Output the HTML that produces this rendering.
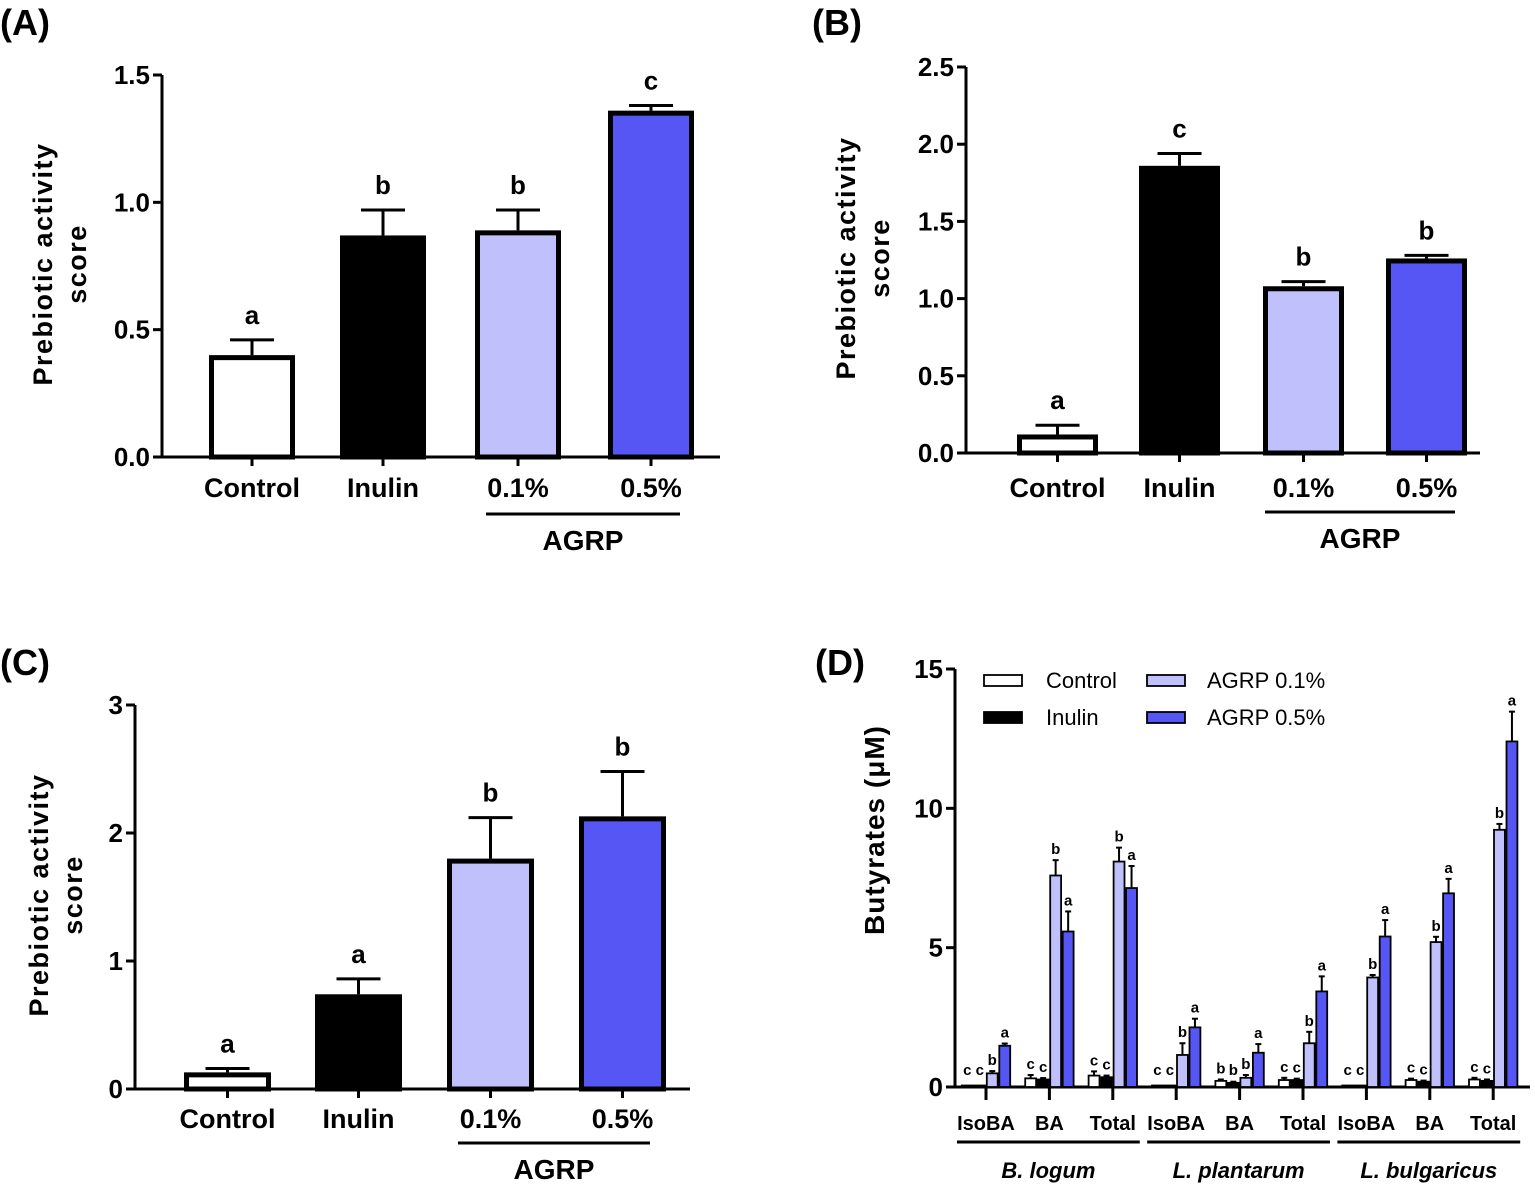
<!DOCTYPE html>
<html><head><meta charset="utf-8">
<style>
html,body{margin:0;padding:0;background:#fff;}
svg{display:block;font-family:"Liberation Sans",sans-serif;}
</style></head>
<body>
<svg id="fig" width="1535" height="1189" viewBox="0 0 1535 1189" xmlns="http://www.w3.org/2000/svg"></svg>
<script>
// Panels A-C data
const groupLabels = ["Control","Inulin","0.1%","0.5%"];
const fills = ["#ffffff","#000000","#c0c0fc","#5656f5"];
const valuesA = [0.40, 0.87, 0.89, 1.36];
const errorsA = [0.06, 0.10, 0.08, 0.02];
const lettersA = ["a","b","b","c"];
const ticksA = ["0.0","0.5","1.0","1.5"];
const valuesB = [0.12, 1.86, 1.08, 1.26];
const errorsB = [0.06, 0.08, 0.03, 0.02];
const lettersB = ["a","c","b","b"];
const ticksB = ["0.0","0.5","1.0","1.5","2.0","2.5"];
const valuesC = [0.13, 0.74, 1.80, 2.13];
const errorsC = [0.03, 0.12, 0.32, 0.35];
const lettersC = ["a","a","b","b"];
const ticksC = ["0","1","2","3"];
// Panel D data
const speciesD = ["B. logum","L. plantarum","L. bulgaricus"];
const acidsD = ["IsoBA","BA","Total"];
const seriesD = ["Control","Inulin","AGRP 0.1%","AGRP 0.5%"];
const controlD = [0.03,0.31,0.41, 0.02,0.22,0.25, 0,0.25,0.27];
const inulinD  = [0.02,0.27,0.35, 0.02,0.15,0.25, 0,0.19,0.22];
const agrp01D  = [0.49,7.59,8.09, 1.15,0.33,1.57, 3.93,5.2,9.23];
const agrp05D  = [1.48,5.58,7.14, 2.14,1.23,3.43, 5.4,6.95,12.4];
const errCtrlD = [0,0.12,0.15, 0,0.05,0.08, 0,0.05,0.06];
const errInuD  = [0,0.05,0.06, 0,0.04,0.05, 0,0.04,0.05];
const err01D   = [0.08,0.55,0.5, 0.42,0.1,0.41, 0.09,0.19,0.21];
const err05D   = [0.08,0.72,0.79, 0.31,0.31,0.54, 0.59,0.52,1.07];
const lettersD = [["c","c","b","a"],["c","c","b","a"],["c","c","b","a"],
                  ["c","c","b","a"],["b","b","b","a"],["c","c","b","a"],
                  ["c","c","b","a"],["c","c","b","a"],["c","c","b","a"]];
const ticksD = ["0","5","10","15"];

const svg = document.getElementById('fig');
const NS = "http://www.w3.org/2000/svg";
function mk(tag, attrs, text){
  const e = document.createElementNS(NS, tag);
  for (const k in attrs) e.setAttribute(k, attrs[k]);
  if (text !== undefined) e.textContent = text;
  svg.appendChild(e);
  return e;
}

function panel(cfg){
  const {id, vals, errs, letters, ticks, max, axX, y0, yTop, barL, barW, xEnd, labY, agrpX1, agrpX2, agrpY, titleX, titleY, letter, letterX, letterY} = cfg;
  const ys = v => y0 - (v / max) * (y0 - yTop);
  let e;
  e = mk('text',{x:letterX,y:letterY,'font-size':36,'font-weight':'bold'},letter);
  
  
  e = mk('line',{x1:axX,y1:yTop,x2:axX,y2:y0,stroke:'#000','stroke-width':3});
  
  
  e = mk('line',{x1:axX,y1:y0,x2:xEnd,y2:y0,stroke:'#000','stroke-width':3});
  
  
  ticks.forEach((t,i)=>{
    const v = max * i / (ticks.length-1);
    const y = ys(v);
    let l = mk('line',{x1:axX-9,y1:y,x2:axX,y2:y,stroke:'#000','stroke-width':3});
    
    
    let tx = mk('text',{x:axX-12,y:y+9,'font-size':26,'font-weight':'bold','text-anchor':'end'},t);
    
    
  });
  e = mk('text',{x:titleX,y:titleY,'font-size':27,'font-weight':'bold','text-anchor':'middle',transform:`rotate(-90 ${titleX} ${titleY})`,'letter-spacing':'1.5'});
  
  
  const t1 = document.createElementNS(NS,'tspan'); t1.setAttribute('x',titleX); t1.textContent='Prebiotic activity'; e.appendChild(t1);
  const t2 = document.createElementNS(NS,'tspan'); t2.setAttribute('x',titleX); t2.setAttribute('dy','34'); t2.textContent='score'; e.appendChild(t2);
  vals.forEach((v,i)=>{
    const x = barL[i], cx = x + barW/2;
    const top = ys(v), et = ys(v+errs[i]);
    let el = mk('line',{x1:cx,y1:top,x2:cx,y2:et,stroke:'#000','stroke-width':3});
    
    
    el = mk('line',{x1:cx-22,y1:et,x2:cx+22,y2:et,stroke:'#000','stroke-width':3});
    
    
    const r = mk('rect',{x:x+2.5,y:top+2.5,width:barW-5,height:Math.max(0,y0-top-2.5),fill:fills[i],stroke:'#000','stroke-width':5});
    
    
    const lt = mk('text',{x:cx,y:et-16,'font-size':26,'font-weight':'bold','text-anchor':'middle'},letters[i]);
    
    
    const tk = mk('line',{x1:cx,y1:y0,x2:cx,y2:y0+9,stroke:'#000','stroke-width':3});
    
    
    const xl = mk('text',{x:cx,y:labY,'font-size':27,'font-weight':'bold','text-anchor':'middle'},groupLabels[i]);
    
    
  });
  e = mk('line',{x1:agrpX1,y1:agrpY,x2:agrpX2,y2:agrpY,stroke:'#000','stroke-width':3});
  
  
  e = mk('text',{x:(agrpX1+agrpX2)/2,y:agrpY+36,'font-size':28,'font-weight':'bold','text-anchor':'middle'},'AGRP');
  
  
}

panel({id:'panel-a',vals:valuesA,errs:errorsA,letters:lettersA,ticks:ticksA,max:1.5,axX:162,y0:457,yTop:75,
  barL:[209,340,475,608],barW:86,xEnd:720,labY:497,agrpX1:486,agrpX2:680,agrpY:514,titleX:52,titleY:264,
  letter:'(A)',letterX:0,letterY:35});
panel({id:'panel-b',vals:valuesB,errs:errorsB,letters:lettersB,ticks:ticksB,max:2.5,axX:966,y0:453,yTop:67,
  barL:[1017,1139,1263,1386],barW:81,xEnd:1480,labY:497,agrpX1:1265,agrpX2:1455,agrpY:512,titleX:855,titleY:258,
  letter:'(B)',letterX:812,letterY:35});
panel({id:'panel-c',vals:valuesC,errs:errorsC,letters:lettersC,ticks:ticksC,max:3,axX:135,y0:1089,yTop:705,
  barL:[184,315,447,579],barW:87,xEnd:690,labY:1128,agrpX1:458,agrpX2:650,agrpY:1143,titleX:48,titleY:895,
  letter:'(C)',letterX:0,letterY:675});

// Panel D
(function(){
  const axX = 955, y0 = 1087, yTop = 669, max = 15;
  const ys = v => y0 - (v/max)*(y0-yTop);
  const tick0 = 986, step = 63.4, bw = 12.5;
  const allSeries = [controlD, inulinD, agrp01D, agrp05D];
  const allErr = [errCtrlD, errInuD, err01D, err05D];
  let e;
  e = mk('text',{x:815,y:675,'font-size':36,'font-weight':'bold'},'(D)');
  
  
  e = mk('line',{x1:axX,y1:yTop,x2:axX,y2:y0,stroke:'#000','stroke-width':3});
  
  
  e = mk('line',{x1:axX-2,y1:y0,x2:1530,y2:y0,stroke:'#000','stroke-width':3});
  
  
  ticksD.forEach((t,i)=>{
    const y = ys(max*i/(ticksD.length-1));
    let l = mk('line',{x1:axX-9,y1:y,x2:axX,y2:y,stroke:'#000','stroke-width':3});
    
    
    let tx = mk('text',{x:axX-12,y:y+9,'font-size':26,'font-weight':'bold','text-anchor':'end'},t);
    
    
  });
  e = mk('text',{x:884,y:830,'font-size':28,'font-weight':'bold','text-anchor':'middle',transform:'rotate(-90 884 830)','letter-spacing':'1'},'Butyrates (μM)');
  
  
  for (let g=0; g<9; g++){
    const cx = tick0 + step*g;
    for (let s=0; s<4; s++){
      const v = allSeries[s][g], er = allErr[s][g];
      const x = cx - 2*bw + s*bw;
      const top = ys(v), et = ys(v+er);
      const bc = x + bw/2;
      if (er > 0){
        let l = mk('line',{x1:bc,y1:top,x2:bc,y2:et,stroke:'#000','stroke-width':2});
        
        
        l = mk('line',{x1:bc-3,y1:et,x2:bc+3,y2:et,stroke:'#000','stroke-width':2});
        
        
      }
      const r = mk('rect',{x:x+0.8,y:Math.min(top,y0-1.5),width:bw-1.6,height:Math.max(1.5,y0-top),fill:fills[s],stroke:'#000','stroke-width':1.8});
      
      
      const lt = mk('text',{x:bc,y:Math.min(et,y0-6)-6,'font-size':15,'font-weight':'bold','text-anchor':'middle'},lettersD[g][s]);
      
      
    }
    let tk = mk('line',{x1:cx,y1:y0,x2:cx,y2:y0+13,stroke:'#000','stroke-width':3});
    
    
    let xl = mk('text',{x:cx,y:1130,'font-size':20,'font-weight':'bold','text-anchor':'middle'},acidsD[g%3]);
    
    
  }
  speciesD.forEach((sp,i)=>{
    const x1 = tick0 + step*3*i - 29, x2 = tick0 + step*(3*i+2) + 27;
    let l = mk('line',{x1:x1,y1:1142,x2:x2,y2:1142,stroke:'#000','stroke-width':3});
    
    
    let t = mk('text',{x:(x1+x2)/2,y:1178,'font-size':22,'font-style':'italic','font-weight':'bold','text-anchor':'middle'},sp);
    
    
  });
  const legPos = [[984,680],[984,717],[1147,680],[1147,717]];
  seriesD.forEach((s,i)=>{
    const [lx,ly] = legPos[i];
    let r = mk('rect',{x:lx,y:ly-5,width:38,height:11,fill:fills[i],stroke:'#000','stroke-width':1.8});
    
    
    let t = mk('text',{x:lx+(i<2?62:60),y:ly+8,'font-size':22},s);
    
    
  });
})();
</script>
</body></html>
